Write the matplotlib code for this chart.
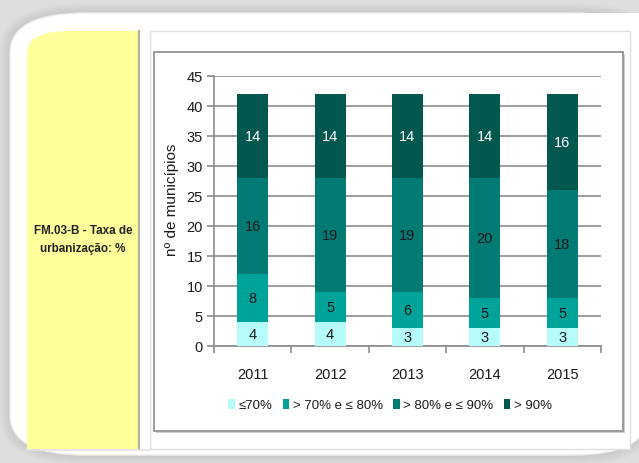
import matplotlib
matplotlib.use('Agg')
import matplotlib.pyplot as plt
import numpy as np
from matplotlib.patches import FancyBboxPatch, Rectangle
from matplotlib.lines import Line2D

years = ['2011', '2012', '2013', '2014', '2015']
ate_70 = [4, 4, 3, 3, 3]
de_70_80 = [8, 5, 6, 5, 5]
de_80_90 = [16, 19, 19, 20, 18]
acima_90 = [14, 14, 14, 14, 16]

series_names = ['≤70%', '> 70% e ≤ 80%', '> 80% e ≤ 90%', '> 90%']
series_colors = ['#b5fbfa', '#00a39a', '#007a73', '#02584f']
label_colors = ['#1a1a1a', '#1a1a1a', '#1a1a1a', '#ffffff']

plt.rcParams['font.family'] = ['Liberation Sans', 'DejaVu Sans']

W, H = 639, 464
fig = plt.figure(figsize=(W / 100, H / 100), dpi=100)
fig.patch.set_facecolor('#dedede')


def px(x, y):
    # pixel coords (top-left origin) -> figure fraction
    return x / W, 1 - y / H


def box(x0, y0, x1, y1, **kw):
    fx, fy = px(x0, y1)
    p = Rectangle((fx, fy), (x1 - x0) / W, (y1 - y0) / H,
                  transform=fig.transFigure, **kw)
    fig.patches.append(p)
    return p


def rbox(x0, y0, x1, y1, r, **kw):
    fx, fy = px(x0, y1)
    p = FancyBboxPatch((fx, fy), (x1 - x0) / W, (y1 - y0) / H,
                       boxstyle='round,pad=0,rounding_size=%f' % (r / H),
                       mutation_aspect=H / W,
                       transform=fig.transFigure, **kw)
    fig.patches.append(p)
    return p


# soft shadow around the white card
for i, a in enumerate([0.05, 0.05, 0.06, 0.07, 0.08]):
    d = 10 - 2 * i
    rbox(10 - d, 14 - d, 648 + d, 456 + d, 55 + d, facecolor='#9a9a9a',
         edgecolor='none', alpha=a)
rbox(10, 14, 648, 456, 55, facecolor='white', edgecolor='#eeeeee', lw=1)
box(580, 14, 660, 120, facecolor='white', edgecolor='none')

# yellow title cell
rbox(27, 32, 138, 450, 30, facecolor='#ffff9c', edgecolor='none')
box(27, 80, 138, 450, facecolor='#ffff9c', edgecolor='none')
box(80, 32, 138, 80, facecolor='#ffff9c', edgecolor='none')
fig.lines.append(Line2D([138.5 / W] * 2, [px(0, 32)[1], px(0, 450)[1]],
                        transform=fig.transFigure, color='#b0b0a0', lw=1.5))
fig.lines.append(Line2D([27 / W, 150 / W], [px(0, 450.5)[1]] * 2,
                        transform=fig.transFigure, color='#e2e2e2', lw=1.2))
fig.text(*px(83, 240), 'FM.03-B - Taxa de\nurbanização: %', ha='center',
         va='center', fontsize=8.4, fontweight='bold', color='#222222',
         linespacing=1.7, zorder=10)

# chart boxes
box(150, 32, 630, 450, facecolor='white', edgecolor='#e0e0e0', lw=1)
box(156, 55, 625, 434, facecolor='#d0d0d0', edgecolor='none')
box(154, 53, 623, 432, facecolor='white', edgecolor='#9a9a9a', lw=1.4)

ax = fig.add_axes([214 / W, 1 - 347 / H, 387 / W, 270 / H])
ax.set_facecolor('none')
ax.set_zorder(10)

x = np.arange(len(years))
bottom = np.zeros(len(years))
width = 0.4
for vals, name, col, lc in zip([ate_70, de_70_80, de_80_90, acima_90],
                               series_names, series_colors, label_colors):
    vals = np.array(vals)
    ax.bar(x, vals, width, bottom=bottom, color=col, label=name, zorder=3)
    for xi, b, v in zip(x, bottom, vals):
        ax.text(xi, b + v / 2, str(v), ha='center', va='center',
                fontsize=10.5, color=lc, zorder=4)
    bottom += vals

ax.set_xlim(-0.5, len(years) - 0.5)
ax.set_ylim(0, 45)
ax.set_yticks(range(0, 46, 5))
ax.yaxis.grid(True, color='#8c8c8c', lw=1.2, zorder=0)
ax.set_axisbelow(True)
for s in ['top', 'right']:
    ax.spines[s].set_visible(False)
for s in ['left', 'bottom']:
    ax.spines[s].set_color('#8c8c8c')
    ax.spines[s].set_linewidth(1.2)

ax.set_xticks(x)
ax.set_xticklabels(years, fontsize=10.5, color='#1a1a1a')
ax.tick_params(axis='x', length=0, pad=15)
ax.set_xticks(np.arange(-0.5, len(years), 1), minor=True)
ax.tick_params(axis='x', which='minor', length=5, color='#8c8c8c', width=1.2)
ax.tick_params(axis='y', length=5, color='#8c8c8c', width=1.2,
               labelsize=10.5, labelcolor='#1a1a1a', pad=3)

fig.text(*px(172, 200), 'nº de municípios', rotation=90, ha='center',
         va='center', fontsize=11, color='#1a1a1a', zorder=10)

leg = ax.legend(loc='center', bbox_to_anchor=(390 / W, 1 - 406 / H),
                bbox_transform=fig.transFigure, ncol=4, frameon=False,
                fontsize=9.5, handlelength=0.5, handleheight=0.8,
                handletextpad=0.25, columnspacing=0.8, labelcolor='#1a1a1a')

fig.savefig('out.png', dpi=100, facecolor=fig.get_facecolor())
